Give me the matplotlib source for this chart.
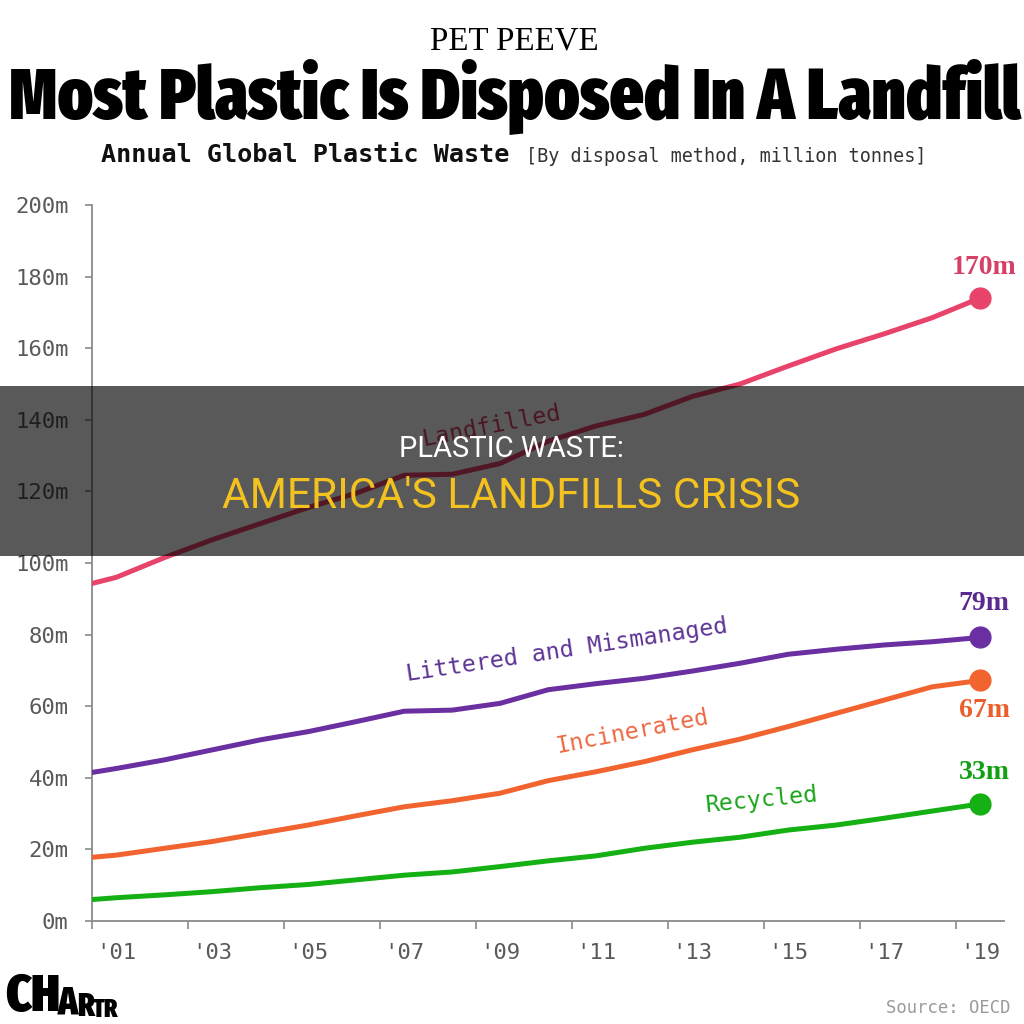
import matplotlib
matplotlib.use("Agg")
import matplotlib.pyplot as plt
from matplotlib import font_manager as fm
from matplotlib.font_manager import FontProperties
from matplotlib.patches import Rectangle
import numpy as np

# ---------------- data ----------------
years = list(range(2000, 2020))
landfilled = [92.6, 96.0, 101.5, 106.5, 111.0, 115.5, 119.5, 124.5, 124.8, 127.8,
              134.0, 138.3, 141.5, 146.5, 150.0, 155.0, 159.8, 164.0, 168.5, 174.0]
littered = [40.4, 42.6, 45.0, 47.8, 50.6, 52.9, 55.7, 58.6, 58.9, 60.8,
            64.6, 66.3, 67.8, 69.8, 72.0, 74.5, 75.9, 77.1, 78.0, 79.2]
incinerated = [17.2, 18.4, 20.3, 22.2, 24.5, 26.8, 29.4, 31.9, 33.6, 35.7,
               39.2, 41.7, 44.5, 47.8, 50.8, 54.3, 58.0, 61.7, 65.4, 67.2]
recycled = [5.5, 6.5, 7.3, 8.2, 9.3, 10.2, 11.5, 12.8, 13.7, 15.2,
            16.8, 18.2, 20.3, 22.0, 23.4, 25.4, 26.8, 28.7, 30.7, 32.7]
series_names = ["Landfilled", "Littered and Mismanaged", "Incinerated", "Recycled"]
end_labels = ["170m", "79m", "67m", "33m"]
x_tick_years = list(range(2001, 2020, 2))
x_tick_labels = ["'01", "'03", "'05", "'07", "'09", "'11", "'13", "'15", "'17", "'19"]
y_ticks = list(range(0, 201, 20))
y_tick_labels = ["0m", "20m", "40m", "60m", "80m", "100m", "120m", "140m", "160m", "180m", "200m"]

kicker = "PET PEEVE"
title = "Most Plastic Is Disposed In A Landfill"
subtitle_bold = "Annual Global Plastic Waste"
subtitle_rest = "[By disposal method, million tonnes]"
banner_line1 = "PLASTIC WASTE:"
banner_line2 = "AMERICA'S LANDFILLS CRISIS"
source_text = "Source: OECD"
logo_letters = ["C", "H", "A", "R", "T", "R"]

# ---------------- styles ----------------
line_colors = ["#E8436B", "#6A2FA0", "#F2642F", "#14B014"]
end_label_colors = ["#D63F66", "#5B2A8E", "#EA5F2C", "#11A011"]
inline_colors = ["#D4405F", "#5E3494", "#EC6A44", "#1AA51A"]
end_offsets_px = [31, 34, -30, 31]
inline_pos = [(2009.33, 138.3, 11), (2010.89, 75.7, 8.6), (2012.26, 52.8, 11), (2014.95, 33.8, 5.5)]
logo_sizes = [38, 38, 28, 23, 18, 18]

W = H = 1024


def fx(px):
    return px / W


def fy(py):
    return 1 - py / H


def weight_num(w):
    if isinstance(w, (int, float)):
        return int(w)
    return fm.weight_dict.get(str(w), 400)


def find_condensed(min_w, max_w):
    best, best_score = None, None
    for f in fm.fontManager.ttflist:
        if f.style != 'normal':
            continue
        w = weight_num(f.weight)
        if not (min_w <= w <= max_w):
            continue
        fn = f.fname.lower().replace('-', '').replace('_', '').replace(' ', '')
        name = f.name.lower()
        cond = ('condensed' in str(f.stretch)) or ('narrow' in name) or ('cond' in fn) or ('narrow' in fn)
        if not cond:
            continue
        if 'mono' in name or 'cjk' in name or ('serif' in name and 'sans' not in name):
            continue
        score = w / 100.0
        if 'extracond' in fn or 'ultracond' in fn:
            score += 5
        elif 'semicond' in fn:
            score -= 2
        if best_score is None or score > best_score:
            best, best_score = f, score
    if best is None:
        return None
    return FontProperties(fname=best.fname)


title_fp = find_condensed(700, 1000) or FontProperties(family='DejaVu Sans', weight='bold')
banner_fp = FontProperties(family='Roboto', weight='normal')
mono = 'DejaVu Sans Mono'

fig = plt.figure(figsize=(10.24, 10.24), dpi=100)
fig.patch.set_facecolor('white')
ax = fig.add_axes([fx(92.3), fy(921), fx(1004) - fx(92.3), fy(205) - fy(921)])
ax.set_xlim(2001, 2020)
ax.set_ylim(0, 200)

xs = np.array(years) + 0.5
all_series = [landfilled, littered, incinerated, recycled]
for i, vals in enumerate(all_series):
    ax.plot(xs, vals, color=line_colors[i], lw=3.6, solid_joinstyle='round', zorder=3)
    ax.plot(xs[-1], vals[-1], 'o', ms=15, color=line_colors[i], zorder=4, clip_on=False)
    ax.annotate(end_labels[i], (xs[-1], vals[-1]), xytext=(3, end_offsets_px[i] * 0.72),
                textcoords='offset points', ha='center', va='center',
                family='Liberation Serif', fontweight='bold', fontsize=20,
                color=end_label_colors[i], annotation_clip=False)
    px_, py_, ang = inline_pos[i]
    ax.text(px_, py_, series_names[i], rotation=ang, rotation_mode='anchor',
            ha='center', va='center', family=mono, fontsize=16.8,
            color=inline_colors[i], zorder=2)

for s in ['top', 'right']:
    ax.spines[s].set_visible(False)
for s in ['left', 'bottom']:
    ax.spines[s].set_color('#8a8a8a')
    ax.spines[s].set_linewidth(1.3)

ax.set_yticks(y_ticks)
ax.set_yticklabels(y_tick_labels, family=mono, fontsize=16, color='#5a5a5a')
ax.tick_params(axis='y', length=5, width=1.2, color='#8a8a8a', pad=12)

ax.set_xticks(x_tick_years)
ax.set_xticklabels([''] * len(x_tick_years))
ax.tick_params(axis='x', which='major', length=5.5, width=1.2, color='#8a8a8a')
ax.set_xticks(np.array(x_tick_years) + 0.5, minor=True)
ax.set_xticklabels(x_tick_labels, minor=True, family=mono, fontsize=16, color='#5a5a5a')
ax.tick_params(axis='x', which='minor', length=0, pad=16)

# ---------------- header / footer text ----------------
renderer = fig.canvas.get_renderer()


def fit(t, width_px):
    bb = t.get_window_extent(renderer=renderer)
    t.set_fontsize(t.get_fontsize() * width_px / bb.width)
    return t


t_k = fig.text(fx(514), fy(50), kicker, ha='center', va='baseline',
               family='Liberation Serif', fontsize=22, color='black')
fit(t_k, 168)
t_title = fig.text(fx(515), fy(118), title, ha='center', va='baseline',
                   fontproperties=title_fp, fontsize=40, color='black')
fit(t_title, 1010)
t_sb = fig.text(fx(101), fy(162), subtitle_bold, ha='left', va='baseline',
                family=mono, fontweight='bold', fontsize=16, color='#111111')
fit(t_sb, 409)
t_sr = fig.text(fx(526), fy(162), subtitle_rest, ha='left', va='baseline',
                family=mono, fontsize=13, color='#333333')
fit(t_sr, 402)

t_src = fig.text(fx(1010), fy(1013), source_text, ha='right', va='baseline',
                 family=mono, fontsize=12, color='#9a9a9a')
fit(t_src, 124)

# logo: letters of decreasing size sharing a common bottom
x_cursor = 5
for letter, size in zip(logo_letters, logo_sizes):
    t = fig.text(fx(x_cursor), fy(1023), letter, ha='left', va='bottom',
                 fontproperties=title_fp, fontsize=size, color='black')
    bb = t.get_window_extent(renderer=renderer)
    x_cursor = bb.x1 - 1

# ---------------- banner overlay ----------------
fig.add_artist(Rectangle((0, fy(556)), 1, (556 - 386) / H, transform=fig.transFigure,
                         facecolor='black', edgecolor='none', alpha=0.65, zorder=10))
t_b1 = fig.text(fx(511), fy(457), banner_line1, ha='center', va='baseline',
                fontproperties=banner_fp, fontsize=18, color='white', zorder=11)
fit(t_b1, 225)
t_b2 = fig.text(fx(511), fy(508), banner_line2, ha='center', va='baseline',
                fontproperties=banner_fp, fontsize=26, color='#F4C21F', zorder=11)
fit(t_b2, 578)

fig.savefig('out.png', dpi=100, facecolor='white')
